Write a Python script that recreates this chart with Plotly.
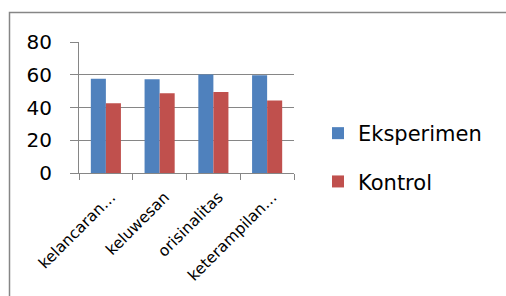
import plotly.graph_objects as go

categories = ["kelancaran…", "keluwesan", "orisinalitas", "keterampilan…"]
eksperimen = [57.6, 57.2, 60.2, 59.7]
kontrol = [42.6, 48.7, 49.4, 44.2]
y_ticks = [0, 20, 40, 60, 80]

GRAY = "#868686"
FONT = "DejaVu Sans"

fig = go.Figure()
fig.add_trace(go.Bar(name="Eksperimen", x=categories, y=eksperimen,
                     marker=dict(color="#4F81BD", line=dict(width=0)), legendgroup="a"))
fig.add_trace(go.Bar(name="Kontrol", x=categories, y=kontrol,
                     marker=dict(color="#C0504D", line=dict(width=0)), legendgroup="b"))

W, H = 506, 296
L, R, T, B = 79, 212, 42, 123
pw, ph = W - L - R, H - T - B

def px(x):
    return (x - L) / pw

def py(y):
    return (H - B - y) / ph

fig.update_layout(
    width=W, height=H,
    margin=dict(l=L, r=R, t=T, b=B, pad=0, autoexpand=False),
    paper_bgcolor="white", plot_bgcolor="white",
    barmode="group", bargap=0.44, bargroupgap=0,
    font=dict(family=FONT, color="black"),
    legend=dict(x=px(318), y=py(113), xanchor="left", yanchor="top",
                font=dict(size=21, family=FONT), traceorder="grouped",
                tracegroupgap=18, bgcolor="rgba(0,0,0,0)"),
    xaxis=dict(showline=True, linecolor=GRAY, linewidth=1, automargin=False,
               ticks="outside", ticklen=6, tickcolor=GRAY, tickson="boundaries",
               tickangle=-45, tickfont=dict(size=15.5, family=FONT),
               ticklabelstandoff=8, ticklabelshift=5, showgrid=False),
    yaxis=dict(range=[0, 80], tickvals=y_ticks, showline=True, linecolor=GRAY,
               linewidth=1, ticks="outside", ticklen=8, tickcolor=GRAY,
               automargin=False,
               showgrid=True, gridcolor=GRAY, gridwidth=1,
               tickfont=dict(size=20, family=FONT), ticklabelstandoff=14,
               zeroline=False),
    shapes=[dict(type="rect", xref="paper", yref="paper",
                 x0=px(9.5), x1=px(520), y0=py(12.5), y1=py(320),
                 line=dict(color=GRAY, width=1.5), fillcolor="rgba(0,0,0,0)",
                 layer="below")],
)

fig.write_html("out.html", config={"displayModeBar": False},
               post_script="document.body.style.margin='0';document.body.style.overflow='hidden';")
